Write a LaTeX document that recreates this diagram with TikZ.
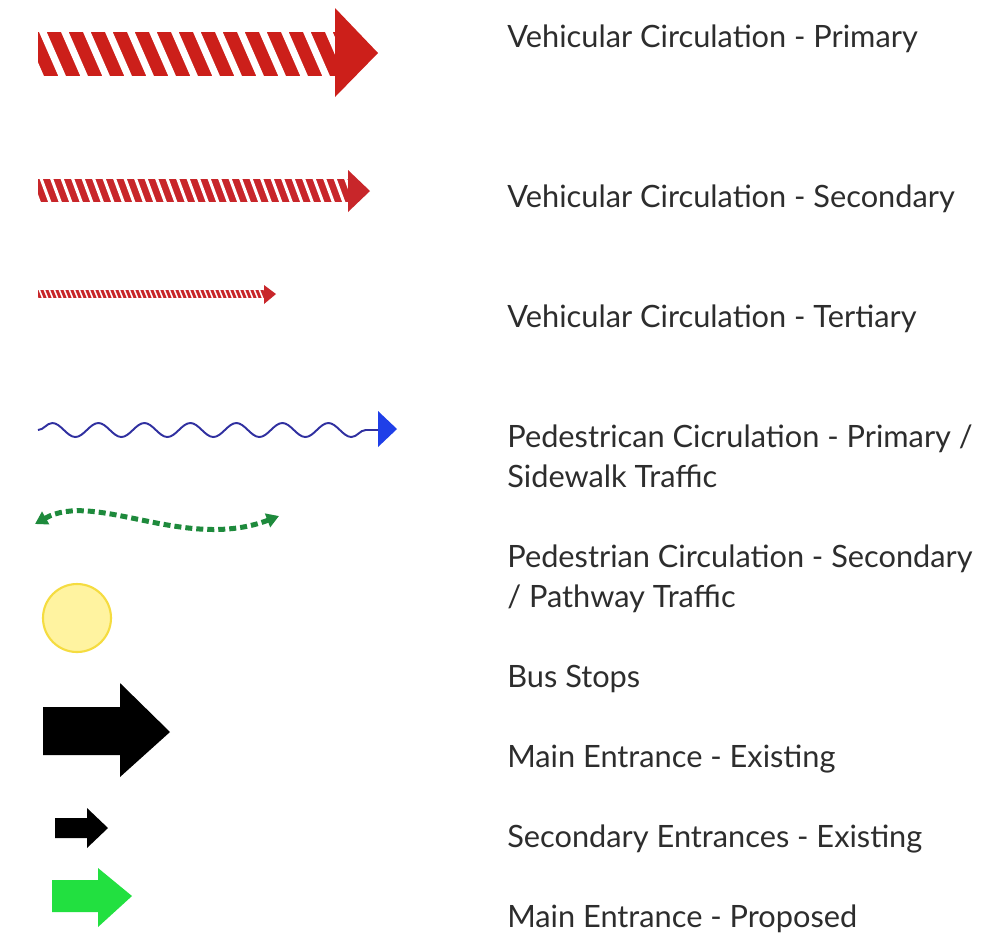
\documentclass[tikz,border=0pt]{standalone}
\usepackage{fontspec}
\setmainfont{Lato}
\usepackage{tikz}
\usetikzlibrary{arrows.meta, decorations.pathmorphing, positioning}
\definecolor{vehred}{RGB}{204,31,26}
\definecolor{vehred2}{RGB}{200,38,42}
\definecolor{pedblue}{RGB}{48,48,160}
\definecolor{headblue}{RGB}{31,63,232}
\definecolor{pedgreen}{RGB}{30,138,60}
\definecolor{busfill}{RGB}{255,243,160}
\definecolor{busedge}{RGB}{245,220,64}
\definecolor{newgreen}{RGB}{34,224,64}
\definecolor{txtgray}{RGB}{45,45,45}

\begin{document}
\begin{tikzpicture}[x=0.02cm, y=-0.02cm,
    legend/.style={anchor=base west, inner sep=0pt, text=txtgray, align=left,
      font=\fontsize{17.5}{22.7}\selectfont},
    gap/.style={white, line width=#1*0.02cm},
    bigarrow/.style={fill=black},
    newarrow/.style={fill=newgreen}
]
  \useasboundingbox[fill=white] (0,0) rectangle (1000,938);

  % labels (two-line ones sit on their last line)
  \node[legend, name=vprim] at (507,47) {Vehicular Circulation - Primary};
  \node[legend, name=vsec] at (507,207) {Vehicular Circulation - Secondary};
  \node[legend, name=vter] at (507,327) {Vehicular Circulation - Tertiary};
  \node[legend, name=pprim] at (507,487) {Pedestrican Cicrulation - Primary /\\Sidewalk Traffic};
  \node[legend, name=psec] at (507,607) {Pedestrian Circulation - Secondary\\/ Pathway Traffic};
  \node[legend, name=bus] at (507,687) {Bus Stops};
  \node[legend, name=mainex] at (507,767) {Main Entrance - Existing};
  \node[legend, name=secex] at (507,847) {Secondary Entrances - Existing};
  \node[legend, name=mainnew] at (507,927) {Main Entrance - Proposed};

  % vehicular - primary
  \fill[vehred] (38,32) rectangle (337,76);
  \begin{scope}
    \clip (38,32) rectangle (337,76);
    \foreach \s in {20,42,...,340}
      \draw[gap=7] (\s,30) -- (\s+21,78);
  \end{scope}
  \fill[vehred] (335,8) -- (378,53) -- (335,97) -- cycle;

  % vehicular - secondary
  \fill[vehred2] (38,179) rectangle (349,202);
  \begin{scope}
    \clip (38,179) rectangle (349,202);
    \foreach \s in {30,40.5,...,350}
      \draw[gap=3] (\s,177) -- (\s+10,204);
  \end{scope}
  \fill[vehred2] (348,170) -- (370,191) -- (348,212) -- cycle;

  % vehicular - tertiary
  \fill[vehred2] (38,290) rectangle (266,298);
  \begin{scope}
    \clip (38,290) rectangle (266,298);
    \foreach \s in {34,39,...,270}
      \draw[gap=1.5] (\s,289) -- (\s+4,299);
  \end{scope}
  \fill[vehred2] (264,285) -- (276,294) -- (264,304) -- cycle;

  % pedestrian - primary
  \coordinate (pa) at (38,430);
  \coordinate (pb) at (379,430);
  \draw[pedblue, line width=1.1pt, decorate,
    decoration={snake, segment length=46*0.02cm, amplitude=7*0.02cm, post length=5*0.02cm}] (pa) -- (pb);
  \fill[headblue] (378,411) -- (397,429) -- (378,447) -- cycle;

  % pedestrian - secondary
  \coordinate (qa) at (35,524);
  \coordinate (qb) at (279,516);
  \draw[pedgreen, line width=5*0.02cm, dash pattern=on 7*0.02cm off 4*0.02cm,
    {Triangle[length=7pt, width=8pt]}-{Triangle[length=7pt, width=8pt]}]
    (qa) .. controls (95,490) and (185,552) .. (qb);

  % bus stop
  \node[circle, draw=busedge, fill=busfill, line width=1.2pt, minimum size=68*0.02cm,
    inner sep=0pt, name=stop] at (77,618) {};

  % entrances
  \fill[bigarrow] (43,707) -- (120,707) -- (120,683) -- (170,732) -- (120,777) -- (120,755) -- (43,755) -- cycle;
  \fill[bigarrow] (55,818) -- (87,818) -- (87,808) -- (108,828) -- (87,848) -- (87,838) -- (55,838) -- cycle;
  \fill[newarrow] (52,880) -- (98,880) -- (98,868) -- (132,896) -- (98,927) -- (98,912) -- (52,912) -- cycle;
\end{tikzpicture}
\end{document}
